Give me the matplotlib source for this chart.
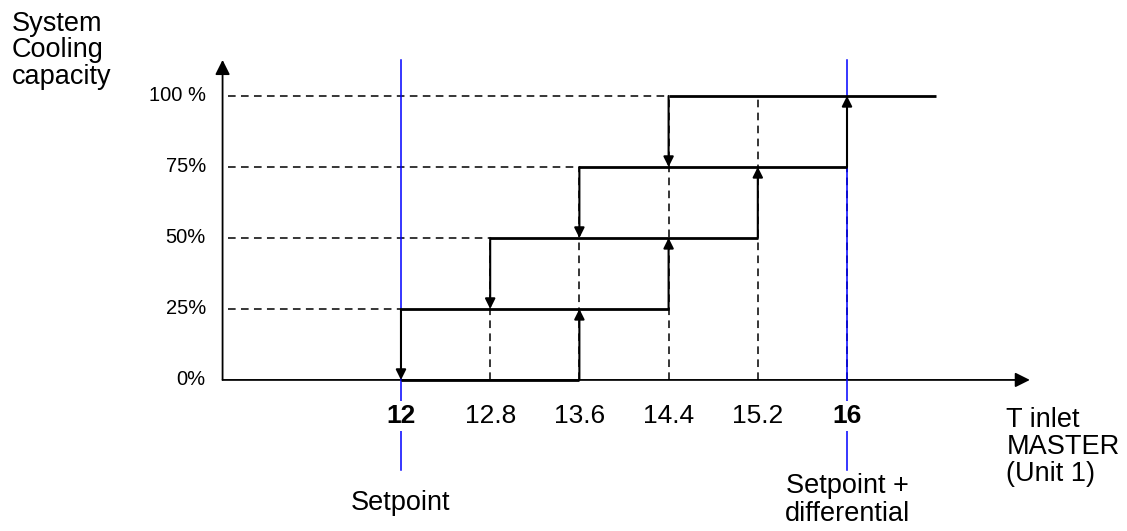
import matplotlib
matplotlib.use("Agg")
import matplotlib.pyplot as plt

plt.rcParams['font.family'] = ['Liberation Sans', 'DejaVu Sans']

# data
temps = [12.0, 12.8, 13.6, 14.4, 15.2, 16.0]
temp_labels = ['12', '12.8', '13.6', '14.4', '15.2', '16']
bold_labels = ['12', '16']
levels = [0, 25, 50, 75, 100]
level_labels = ['0%', '25%', '50%', '75%', '100 %']
on_temps = [13.6, 14.4, 15.2, 16.0]    # step up (rising temperature)
off_temps = [12.0, 12.8, 13.6, 14.4]   # step down (falling temperature)
max_temp = 16.8
setpoint = 12.0
setpoint_diff = 16.0

fig = plt.figure(figsize=(11.27, 5.31), dpi=100)
ax = fig.add_axes([0, 0, 1, 1])
ax.set_xlim(8.404, 18.511)
ax.set_ylim(-53.2, 133.8)
ax.axis('off')

x0 = 10.4  # position of the y axis
arrow_kw = dict(arrowstyle='-|>', color='black', shrinkA=0, shrinkB=0,
                mutation_scale=15, lw=1.5)

# axes with arrows
ax.annotate('', xy=(x0, 112.7), xytext=(x0, 0), arrowprops=dict(arrow_kw, mutation_scale=22, lw=1.3))
ax.annotate('', xy=(17.64, 0), xytext=(x0, 0), arrowprops=dict(arrow_kw, mutation_scale=22, lw=1.3))

# staircase horizontals
starts = []
for i, lev in enumerate(levels):
    start = off_temps[max(i - 1, 0)]
    end = on_temps[i] if i < len(on_temps) else max_temp
    starts.append((start, end))
    ax.plot([start, end], [lev, lev], color='black', lw=2, solid_capstyle='butt', zorder=4)
    if i > 0:
        ax.plot([x0 + 0.05, start], [lev, lev], color='black', lw=1.1,
                linestyle=(0, (5, 3.5)), zorder=2)

# vertical dashed guides
for t in temps[1:]:
    top = max(lev for lev, (s, e) in zip(levels, starts) if s - 1e-6 <= t <= e + 1e-6)
    ax.plot([t, t], [0, top], color='black', lw=1.1, linestyle=(0, (5, 3.5)), zorder=2)

# transition arrows
for i, t in enumerate(on_temps):
    ax.annotate('', xy=(t, levels[i + 1]), xytext=(t, levels[i]), arrowprops=arrow_kw, zorder=5)
for i, t in enumerate(off_temps):
    ax.annotate('', xy=(t, levels[i]), xytext=(t, levels[i + 1]), arrowprops=arrow_kw, zorder=5)

# blue reference lines
for t in [setpoint, setpoint_diff]:
    ax.plot([t, t], [-31.7, 112.7], color='#0000ff', lw=1.1, zorder=3)

# tick labels
for t, lab in zip(temps, temp_labels):
    ax.text(t, -12.7, lab, ha='center', va='center', fontsize=19,
            fontweight='bold' if lab in bold_labels else 'normal',
            bbox=dict(facecolor='white', edgecolor='none', pad=2), zorder=6)
for lev, lab in zip(levels, level_labels):
    ax.text(10.25, lev, lab, ha='right', va='center', fontsize=14.5)

# annotations
ax.text(setpoint, -43.3, 'Setpoint', ha='center', va='center', fontsize=19.5)
ax.text(setpoint_diff, -42.3, 'Setpoint +\ndifferential', ha='center', va='center',
        fontsize=19.5, linespacing=1.1)
ax.text(17.43, -9.5, 'T inlet\nMASTER\n(Unit 1)', ha='left', va='top', fontsize=19.5,
        linespacing=1.05)
ax.text(8.51, 130.0, 'System\nCooling\ncapacity', ha='left', va='top', fontsize=19.5,
        linespacing=1.02)

fig.savefig('out.png', dpi=100)
